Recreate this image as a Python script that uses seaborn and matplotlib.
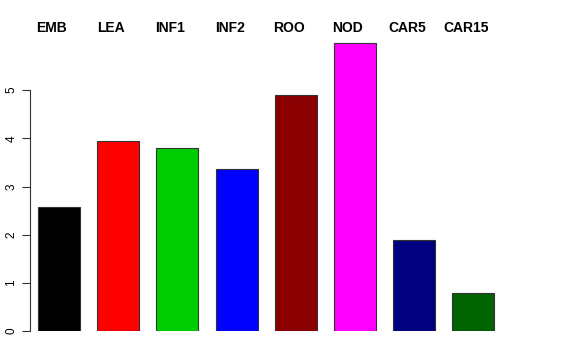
import matplotlib
matplotlib.use("Agg")
import matplotlib.pyplot as plt
import seaborn as sns
import pandas as pd

categories = ["EMB", "LEA", "INF1", "INF2", "ROO", "NOD", "CAR5", "CAR15"]
values = [2.58, 3.95, 3.80, 3.36, 4.89, 5.97, 1.89, 0.78]
colors = ["#000000", "#FF0000", "#00CD00", "#0000FF", "#8B0000", "#FF00FF", "#000080", "#006400"]
yticks = [0, 1, 2, 3, 4, 5]

sns.set_style("white")
plt.rcParams['font.family'] = ['Liberation Sans', 'DejaVu Sans']
plt.rcParams['text.color'] = 'black'
plt.rcParams['ytick.color'] = 'black'

W, H = 576, 360
fig = plt.figure(figsize=(W / 100, H / 100), dpi=100)
left, right = 30, 540
bottom_px, top_px = 331, 42
ax = fig.add_axes([left / W, (H - bottom_px) / H, (right - left) / W, (bottom_px - top_px) / H])

df = pd.DataFrame({"cat": categories, "val": values})
sns.barplot(data=df, x="cat", y="val", hue="cat", palette=colors, width=0.71,
            edgecolor="#333333", linewidth=0.8, legend=False, ax=ax, saturation=1)

ax.set_xlim(-0.49, 8.125)
ax.set_ylim(0, 6.0)
ax.set_xlabel("")
ax.set_ylabel("")
ax.set_xticks([])
ax.set_yticks(yticks)
ax.set_yticklabels([str(t) for t in yticks], rotation=90, va="center", fontsize=8.5, color="black")
for s in ["top", "right", "bottom"]:
    ax.spines[s].set_visible(False)
ax.spines["left"].set_bounds(0, 5)
ax.spines["left"].set_color("#333333")
ax.spines["left"].set_linewidth(0.8)
ax.tick_params(axis="y", direction="out", length=6, width=0.8, color="#333333", pad=3, left=True)

for i, c in enumerate(categories):
    ax.text(i - 0.12, 6.29, c, ha="center", va="center", fontsize=10, fontweight="bold",
            color="black", clip_on=False)

fig.savefig("out.png", dpi=100)
